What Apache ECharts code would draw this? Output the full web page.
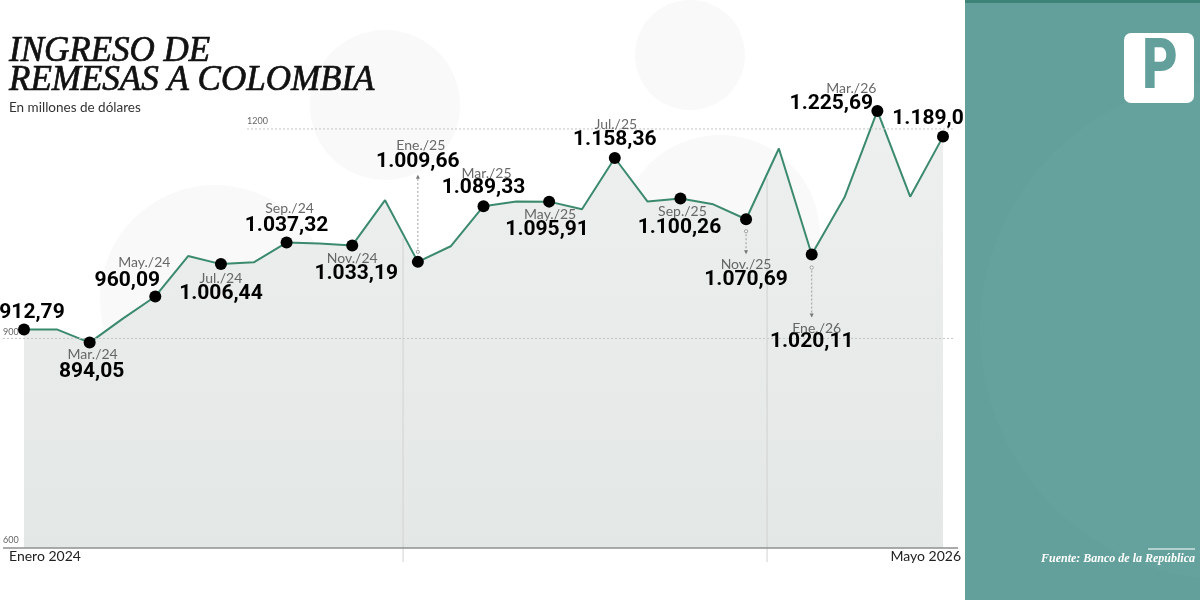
<!DOCTYPE html>
<html><head><meta charset="utf-8">
<script src="https://cdn.jsdelivr.net/npm/echarts@6/dist/echarts.min.js"></script>
<style>html,body{margin:0;padding:0;background:#fff}#c{width:1200px;height:600px}</style>
</head><body><div id="c"></div>
<script>
// ---- DATA ----
const months = ['Ene./24','Feb./24','Mar./24','Abr./24','May./24','Jun./24','Jul./24','Ago./24','Sep./24','Oct./24','Nov./24','Dic./24',
                'Ene./25','Feb./25','Mar./25','Abr./25','May./25','Jun./25','Jul./25','Ago./25','Sep./25','Oct./25','Nov./25','Dic./25',
                'Ene./26','Feb./26','Mar./26','Abr./26','May./26'];
const values = [912.79, 913, 894.05, 928, 960.09, 1018, 1006.44, 1009, 1037.32, 1036, 1033.19, 1098,
                1009.66, 1032, 1089.33, 1096, 1095.91, 1085, 1158.36, 1096, 1100.26, 1092, 1070.69, 1172,
                1020.11, 1102, 1225.69, 1103, 1189.0];
const labeledIdx = [0, 2, 4, 6, 8, 10, 12, 14, 16, 18, 20, 22, 24, 26, 28];
const valueTexts = ['912,79','894,05','960,09','1.006,44','1.037,32','1.033,19','1.009,66','1.089,33','1.095,91','1.158,36','1.100,26','1.070,69','1.020,11','1.225,69','1.189,0'];
const monthTexts = ['', 'Mar./24','May./24','Jul./24','Sep./24','Nov./24','Ene./25','Mar./25','May./25','Jul./25','Sep./25','Nov./25','Ene./26','Mar./26',''];
const yTicks = [600, 900, 1200];
const startLabel = 'Enero 2024';
const endLabel = 'Mayo 2026';

// ---- LAYOUT (label offsets relative to each marker) ----
const valueOffsets = [[8,-17],[2,29],[-28,-16],[0,30],[0,-17],[4,28],[0,-100],[0,-18],[-2,28],[0,-18],[-1,29],[0,61],[0,87],[-46,-7],[-15,-18]];
const monthOffsets = [[0,0],[3,12],[-11,-34],[0,14],[3,-34],[0,13],[3,-116],[3,-33],[1,13],[1,-34],[2,13],[0,45],[5,74],[-26,-22],[0,0]];

const chart = echarts.init(document.getElementById('c'), null, {renderer:'canvas'});

const markerData = labeledIdx.map((i, k) => ({
  name: valueTexts[k], value: [i, values[i]],
  label: {offset: valueOffsets[k]}
}));
const monthData = labeledIdx.map((i, k) => ({
  name: monthTexts[k], value: [i, values[i]],
  label: {offset: monthOffsets[k]}
}));

chart.setOption({
  backgroundColor: '#ffffff',
  animation: false,
  grid: {left: 24, right: 257, top: 94, bottom: 52},
  xAxis: {type: 'category', data: months, boundaryGap: false, show: false},
  yAxis: {type: 'value', min: 600, max: 1250, show: false},
  series: [
    {type: 'line', data: values, symbol: 'none', z: 3,
     lineStyle: {color: '#3b8a6d', width: 2},
     areaStyle: {color: new echarts.graphic.LinearGradient(0,0,0,1,[{offset:0,color:'#edf0ef'},{offset:1,color:'#e3e7e6'}]), opacity: 1}},
    {type: 'scatter', data: markerData, symbolSize: 12, z: 6,
     itemStyle: {color: '#000', opacity: 1},
     label: {show: true, position: 'inside', formatter: p => p.name,
             fontFamily: 'Roboto', fontWeight: 'bold', fontSize: 21, color: '#000'}},
    {type: 'scatter', data: monthData, symbolSize: 1, z: 6, silent: true,
     itemStyle: {color: 'rgba(0,0,0,0)'},
     label: {show: true, position: 'inside', formatter: p => p.name,
             fontFamily: 'Lato', fontWeight: 'normal', fontSize: 14, color: '#444'}}
  ]
});

// ---- Decorations computed through the chart's scales ----
const px = (i, v) => chart.convertToPixel({gridIndex: 0}, [i, v]);
const g = [];
// faint background circles
[[215,300,115],[385,105,75],[720,235,100],[690,55,55]].forEach(c => g.push({
  type:'circle', shape:{cx:c[0], cy:c[1], r:c[2]}, style:{fill:'#f9f9f9'}, z:-10, silent:true}));
// right panel
g.push({type:'rect', shape:{x:965, y:0, width:235, height:600}, style:{fill:'#63a09b'}, z:20});
g.push({type:'circle', shape:{cx:1230, cy:330, r:250}, style:{fill:'rgba(255,255,255,0.025)'}, z:20});
g.push({type:'rect', shape:{x:965, y:0, width:235, height:3}, style:{fill:'#3d8378'}, z:21});
g.push({type:'rect', shape:{x:1124, y:33, width:70, height:70, r:7}, style:{fill:'#ffffff'}, z:21});
g.push({type:'text', x:1160, y:70, scaleX:0.78, style:{text:'P', fill:'#63a09b', font:'900 70px Roboto', align:'center', verticalAlign:'middle'}, z:22});
g.push({type:'line', shape:{x1:1148, y1:549, x2:1195, y2:549}, style:{stroke:'#ffffff', lineWidth:1}, z:21});
g.push({type:'text', x:1195, y:559, style:{text:'Fuente: Banco de la República', fill:'#ffffff', font:'italic bold 12px "Liberation Serif"', align:'right', verticalAlign:'middle'}, z:22});
// horizontal reference lines
const y900 = px(0, 900)[1], y1200 = px(0, 1200)[1], y600 = px(0, 600)[1];
g.push({type:'line', shape:{x1:3, y1:y900, x2:955, y2:y900}, style:{stroke:'#c4c4c4', lineWidth:1, lineDash:[2,2]}, z:4});
g.push({type:'line', shape:{x1:247, y1:y1200, x2:955, y2:y1200}, style:{stroke:'#c4c4c4', lineWidth:1, lineDash:[2,2]}, z:4});
g.push({type:'line', shape:{x1:3, y1:y600, x2:958, y2:y600}, style:{stroke:'#8f8f8f', lineWidth:1.5}, z:5});
g.push({type:'text', x:3, y:y900-6, style:{text:String(yTicks[1]), fill:'#666', font:'9px Lato', align:'left', verticalAlign:'middle'}, z:6});
g.push({type:'text', x:247, y:y1200-8, style:{text:String(yTicks[2]), fill:'#666', font:'9px Lato', align:'left', verticalAlign:'middle'}, z:6});
g.push({type:'text', x:3, y:y600-8, style:{text:String(yTicks[0]), fill:'#666', font:'9px Lato', align:'left', verticalAlign:'middle'}, z:6});
// year separators
[[11, 0.55], [22, 0.64]].forEach(s => {
  const a = px(s[0], values[s[0]]), b = px(s[0]+1, values[s[0]+1]);
  const x = a[0] + s[1]*(b[0]-a[0]), y = a[1] + s[1]*(b[1]-a[1]);
  g.push({type:'line', shape:{x1:x, y1:y+4, x2:x, y2:562}, style:{stroke:'#d2d2d2', lineWidth:1}, z:4});
});
// label connectors
[[12, -10, -86], [22, 12, 34], [24, 13, 62]].forEach(c => {
  const p = px(c[0], values[c[0]]);
  const dir = Math.sign(c[2]);
  g.push({type:'circle', shape:{cx:p[0], cy:p[1]+c[1], r:1.6}, style:{fill:'#fff', stroke:'#888', lineWidth:0.8}, z:7});
  g.push({type:'line', shape:{x1:p[0], y1:p[1]+c[1]+dir*3, x2:p[0], y2:p[1]+c[2]}, style:{stroke:'#888', lineWidth:0.8, lineDash:[2,2]}, z:7});
  const t = p[1]+c[2];
  g.push({type:'polygon', shape:{points:[[p[0]-2, t-dir*3],[p[0]+2, t-dir*3],[p[0], t+dir*1]]}, style:{fill:'#777'}, z:7});
});
// titles
g.push({type:'text', x:9, y:52, style:{text:'INGRESO DE', fill:'#111', stroke:'#111', lineWidth:0.7, font:'italic 35px "Liberation Serif"', align:'left', verticalAlign:'middle'}, z:10});
g.push({type:'text', x:9, y:81, style:{text:'REMESAS A COLOMBIA', fill:'#111', stroke:'#111', lineWidth:0.7, font:'italic 35px "Liberation Serif"', align:'left', verticalAlign:'middle'}, z:10});
g.push({type:'text', x:9, y:108, style:{text:'En millones de dólares', fill:'#333', font:'13.5px Lato', align:'left', verticalAlign:'middle'}, z:10});
g.push({type:'text', x:9, y:556, style:{text:startLabel, fill:'#222', font:'14px Lato', align:'left', verticalAlign:'middle'}, z:10});
g.push({type:'text', x:961, y:556, style:{text:endLabel, fill:'#222', font:'14px Lato', align:'right', verticalAlign:'middle'}, z:10});

chart.setOption({graphic: {elements: g}});
</script></body></html>
